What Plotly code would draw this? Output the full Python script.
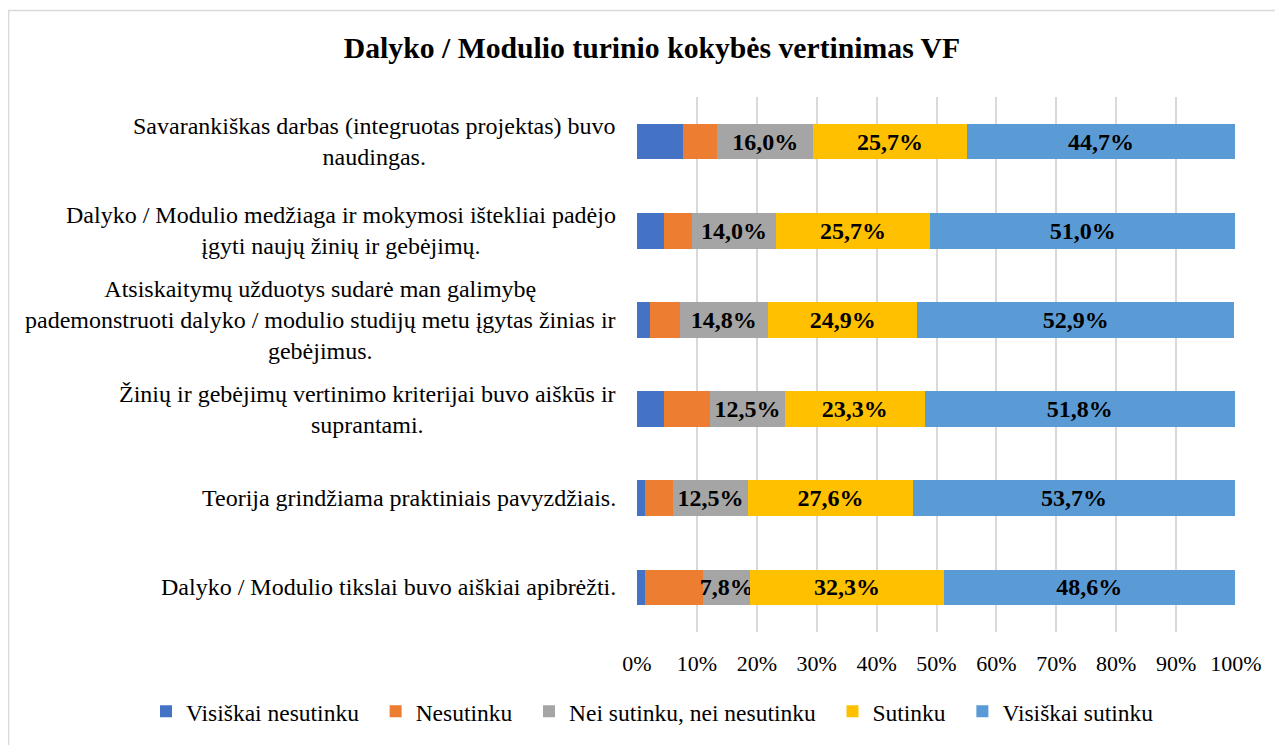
import plotly.graph_objects as go

categories = [
    "Savarankiškas darbas (integruotas projektas) buvo<br>naudingas.",
    "Dalyko / Modulio medžiaga ir mokymosi ištekliai padėjo<br>įgyti naujų žinių ir gebėjimų.",
    "Atsiskaitymų užduotys sudarė man galimybę<br>pademonstruoti dalyko / modulio studijų metu įgytas žinias ir<br>gebėjimus.",
    "Žinių ir gebėjimų vertinimo kriterijai buvo aiškūs ir<br>suprantami.",
    "Teorija grindžiama praktiniais pavyzdžiais.",
    "Dalyko / Modulio tikslai buvo aiškiai apibrėžti.",
]

series_names = ["Visiškai nesutinku", "Nesutinku", "Nei sutinku, nei nesutinku", "Sutinku", "Visiškai sutinku"]
visiskai_nesutinku = [7.7, 4.5, 2.1, 4.5, 1.3, 1.3]
nesutinku = [5.7, 4.7, 5.0, 7.7, 4.7, 9.8]
nei = [16.0, 14.0, 14.8, 12.5, 12.5, 7.8]
sutinku = [25.7, 25.7, 24.9, 23.3, 27.6, 32.3]
visiskai_sutinku = [44.7, 51.0, 52.9, 51.8, 53.7, 48.6]
show_labels = [False, False, True, True, True]

colors = ["#4472C4", "#ED7D31", "#A5A5A5", "#FFC000", "#5B9BD5"]
FONT = "'Liberation Serif', 'Times New Roman', serif"

W, H = 1275, 737
L, R, T, B = 629, 47, 89, 110
PW = W - L - R
PH = H - T - B

ids = [f"c{i}" for i in range(len(categories))]
all_series = [visiskai_nesutinku, nesutinku, nei, sutinku, visiskai_sutinku]

fig = go.Figure()
for i, (name, vals, col, lab) in enumerate(zip(series_names, all_series, colors, show_labels)):
    pad = "\u00a0\u00a0" if i < len(series_names) - 1 else ""
    fig.add_trace(go.Bar(
        y=ids, x=vals, name=name + pad, orientation="h",
        marker=dict(color=col, line=dict(width=0)),
        text=[f"{v:.1f}%".replace(".", ",") for v in vals] if lab else None,
        textposition="inside" if lab else "none",
        insidetextanchor="middle",
        textangle=0,
        constraintext="none",
        textfont=dict(family=FONT, size=24, color="black", weight="bold"),
        hoverinfo="x+name",
    ))

for cid, cat in zip(ids, categories):
    fig.add_annotation(
        x=0, xref="paper", y=cid, yref="y", text=cat, showarrow=False,
        xanchor="right", yanchor="middle", align="center", xshift=-19,
        font=dict(family=FONT, size=24, color="black"),
    )

# chart border
fig.add_shape(type="rect", xref="paper", yref="paper",
              x0=(0.7 - L) / PW, x1=(W + 20 - L) / PW,
              y0=(PH + T - H - 20) / PH, y1=(PH + T - 2) / PH,
              line=dict(color="#d9d9d9", width=1.3), layer="below")

fig.update_layout(
    width=W, height=H,
    barmode="stack", bargap=0.6,
    paper_bgcolor="white", plot_bgcolor="white",
    margin=dict(l=L, r=R, t=T, b=B, pad=0),
    title=dict(text="<b>Dalyko / Modulio turinio kokybės vertinimas VF</b>",
               x=644 / W, xanchor="center", y=1 - 40 / H, yanchor="middle",
               font=dict(family=FONT, size=29.7, color="black")),
    font=dict(family=FONT, color="black"),
    showlegend=True,
    legend=dict(orientation="h", x=(138 - L) / PW, xanchor="left",
                y=(T + PH - 707) / PH, yanchor="middle",
                font=dict(family=FONT, size=23.5, color="black"),
                itemwidth=30, traceorder="normal"),
    xaxis=dict(range=[0, 100], tickvals=[0, 10, 20, 30, 40, 50, 60, 70, 80, 90, 100],
               ticktext=["0%", "10%", "20%", "30%", "40%", "50%", "60%", "70%", "80%", "90%", "100%"],
               showgrid=True, gridcolor="#d9d9d9", gridwidth=1.5, zeroline=False,
               showline=False, ticks="", ticklabelstandoff=16,
               tickfont=dict(family=FONT, size=22, color="black"), fixedrange=True),
    yaxis=dict(autorange="reversed", showticklabels=False, showgrid=False,
               zeroline=False, showline=False, ticks="", fixedrange=True),
)

fig.write_html("out.html")
